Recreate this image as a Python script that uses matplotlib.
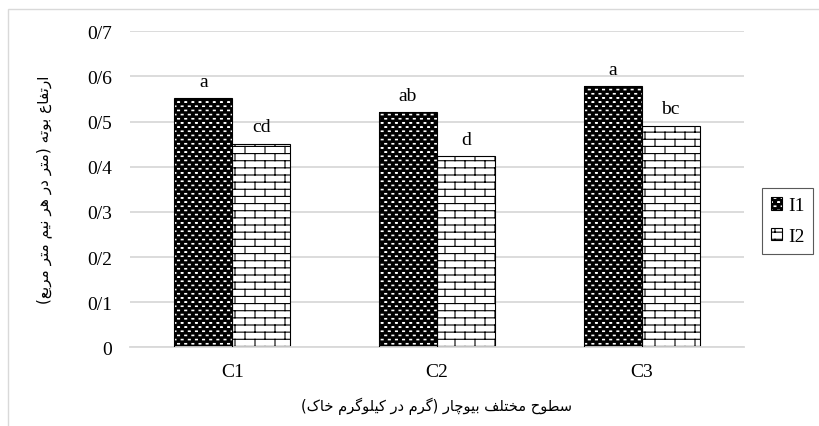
import warnings
import numpy as np
import matplotlib
matplotlib.use('Agg')
import matplotlib.pyplot as plt
import matplotlib.hatch as mhatch
from matplotlib.hatch import HatchPatternBase
from matplotlib.path import Path
from matplotlib.patches import Rectangle

warnings.filterwarnings('ignore')

# ================================== data ==================================
categories = ['C1', 'C2', 'C3']
series_names = ['I1', 'I2']
i1_values = [0.552, 0.521, 0.578]
i2_values = [0.451, 0.424, 0.491]
i1_letters = ['a', 'ab', 'a']
i2_letters = ['cd', 'd', 'bc']
yticks = [0, 0.1, 0.2, 0.3, 0.4, 0.5, 0.6, 0.7]
ytick_labels = ['0', '0/1', '0/2', '0/3', '0/4', '0/5', '0/6', '0/7']
ylabel_fa = 'ارتفاع بوته (متر در هر نیم متر مربع)'
xlabel_fa = 'سطوح مختلف بیوچار (گرم در کیلوگرم خاک)'
# ==================================  end data ==================================


# ---- minimal persian shaping (matplotlib has no bidi / shaping) ----
# isolated, final, initial, medial
FORMS = {
    'ا': ('\uFE8D', '\uFE8E', None, None),
    'د': ('\uFEA9', '\uFEAA', None, None),
    'ر': ('\uFEAD', '\uFEAE', None, None),
    'و': ('\uFEED', '\uFEEE', None, None),
    'ب': ('\uFE8F', '\uFE90', '\uFE91', '\uFE92'),
    'ت': ('\uFE95', '\uFE96', '\uFE97', '\uFE98'),
    'ح': ('\uFEA1', '\uFEA2', '\uFEA3', '\uFEA4'),
    'خ': ('\uFEA5', '\uFEA6', '\uFEA7', '\uFEA8'),
    'س': ('\uFEB1', '\uFEB2', '\uFEB3', '\uFEB4'),
    'ط': ('\uFEC1', '\uFEC2', '\uFEC3', '\uFEC4'),
    'ع': ('\uFEC9', '\uFECA', '\uFECB', '\uFECC'),
    'ف': ('\uFED1', '\uFED2', '\uFED3', '\uFED4'),
    'ل': ('\uFEDD', '\uFEDE', '\uFEDF', '\uFEE0'),
    'م': ('\uFEE1', '\uFEE2', '\uFEE3', '\uFEE4'),
    'ن': ('\uFEE5', '\uFEE6', '\uFEE7', '\uFEE8'),
    'ه': ('\uFEE9', '\uFEEA', '\uFEEB', '\uFEEC'),
    'ی': ('\uFBFC', '\uFBFD', '\uFBFE', '\uFBFF'),
    'ک': ('\uFB8E', '\uFB8F', '\uFB90', '\uFB91'),
    'گ': ('\uFB92', '\uFB93', '\uFB94', '\uFB95'),
    'چ': ('\uFB7A', '\uFB7B', '\uFB7C', '\uFB7D'),
}


def dual(ch):
    return ch in FORMS and FORMS[ch][2] is not None


def shape_fa(s):
    out = []
    for i, ch in enumerate(s):
        if ch not in FORMS:
            out.append(ch)
            continue
        prev_j = i > 0 and dual(s[i - 1])
        next_j = dual(ch) and i + 1 < len(s) and s[i + 1] in FORMS
        iso, fin, ini, med = FORMS[ch]
        if prev_j and next_j:
            out.append(med)
        elif prev_j:
            out.append(fin)
        elif next_j:
            out.append(ini)
        else:
            out.append(iso)
    vis = ''.join(reversed(out))
    return vis.translate(str.maketrans('()', ')('))


# ---- custom hatches: brick wall ('B') and dense dashes ('D') ----
class _ListHatch(HatchPatternBase):
    key = ''

    def __init__(self, hatch, density):
        self.verts, self.codes = ([], [])
        if self.key in hatch:
            self.build()
        self.num_vertices = len(self.verts)

    def set_vertices_and_codes(self, vertices, codes):
        vertices[:] = self.verts
        codes[:] = self.codes


class BrickHatch(_ListHatch):
    key = 'B'

    def build(self):
        rows, cols = 14, 5
        dy, dx = 1.0 / rows, 1.0 / cols
        for r in range(-1, rows):
            yh = (r + 0.5) * dy
            if r >= 0:
                self.verts += [(0, yh), (1, yh)]
                self.codes += [Path.MOVETO, Path.LINETO]
            off = dx / 4 + (dx / 2 if r % 2 else 0)
            for c in range(cols):
                x = c * dx + off
                self.verts += [(x, yh), (x, yh + dy)]
                self.codes += [Path.MOVETO, Path.LINETO]


class DashHatch(_ListHatch):
    key = 'D'

    def build(self):
        rows, cols = 24, 14
        dy, dx = 1.0 / rows, 1.0 / cols
        w, h = 0.019, 0.005
        for r in range(rows):
            cy = (r + 0.5) * dy
            shift = 0.5 if r % 2 else 0.0
            for c in range(-1, cols):
                cx = (c + 0.5 + shift) * dx
                self.verts += [(cx - w / 2, cy - h / 2), (cx + w / 2, cy - h / 2),
                               (cx + w / 2, cy + h / 2), (cx - w / 2, cy + h / 2),
                               (cx - w / 2, cy - h / 2)]
                self.codes += [Path.MOVETO, Path.LINETO, Path.LINETO,
                               Path.LINETO, Path.CLOSEPOLY]


mhatch._hatch_types.append(BrickHatch)
mhatch._hatch_types.append(DashHatch)

plt.rcParams['hatch.linewidth'] = 0.8
serif = ['Liberation Serif', 'DejaVu Serif']
fs = 14

# ================================== plot ==================================
fig = plt.figure(figsize=(8.2, 4.27), dpi=100)
ax = fig.add_axes([130 / 820, 1 - 348.3 / 427, 614 / 820, 316 / 427])

x = np.arange(len(categories))
w = 0.283
grid_c = '#d9d9d9'

b1 = ax.bar(x - w / 2, i1_values, w, color='black', edgecolor='white',
            hatch='D', linewidth=0, zorder=2)
b1o = ax.bar(x - w / 2, i1_values, w, fill=False, edgecolor='black',
             linewidth=0.8, zorder=3)
b2 = ax.bar(x + w / 2, i2_values, w, color='white', edgecolor='black',
            hatch='B', linewidth=0.8, zorder=2)

for xi, v, t in zip(x - w / 2, i1_values, i1_letters):
    ax.annotate(t, (xi, v), xytext=(0, 6), textcoords='offset points',
                ha='center', va='bottom', fontsize=fs, family=serif)
for xi, v, t in zip(x + w / 2, i2_values, i2_letters):
    ax.annotate(t, (xi, v), xytext=(0, 6), textcoords='offset points',
                ha='center', va='bottom', fontsize=fs, family=serif)

ax.set_xlim(-0.5, 2.5)
ax.set_ylim(0, 0.7)
ax.set_yticks(yticks)
ax.set_yticklabels(ytick_labels, family=serif, fontsize=fs)
ax.set_xticks(x)
ax.set_xticklabels(categories, family=serif, fontsize=fs)
ax.tick_params(axis='y', length=0, pad=13)
ax.tick_params(axis='x', length=0, pad=11)
ax.yaxis.grid(True, color=grid_c, linewidth=1.3, zorder=0)
ax.set_axisbelow(True)
for s in ['top', 'right', 'left']:
    ax.spines[s].set_visible(False)
ax.spines['bottom'].set_color(grid_c)
ax.spines['bottom'].set_linewidth(1.3)

ax.set_ylabel(shape_fa(ylabel_fa), family=['DejaVu Sans'], fontsize=11, labelpad=25)
ax.set_xlabel(shape_fa(xlabel_fa), family=['DejaVu Sans'], fontsize=10.5, labelpad=12)

leg = ax.legend([(b1[0], b1o[0]), b2[0]], series_names,
                loc='center left', bbox_to_anchor=(762 / 820, 1 - 222 / 427),
                bbox_transform=fig.transFigure, prop={'family': serif, 'size': fs},
                handlelength=0.6, handleheight=0.6, handletextpad=0.3,
                borderpad=0.45, labelspacing=0.7, fancybox=False,
                edgecolor='#595959', framealpha=1, borderaxespad=0)
leg.get_frame().set_linewidth(0.8)

# chart area border
fig.patches.append(Rectangle((8 / 820, -0.05), 1.1, 1.05 - 10 / 427, fill=False,
                             edgecolor=grid_c, linewidth=1, transform=fig.transFigure))

fig.savefig('out.png', dpi=100)
